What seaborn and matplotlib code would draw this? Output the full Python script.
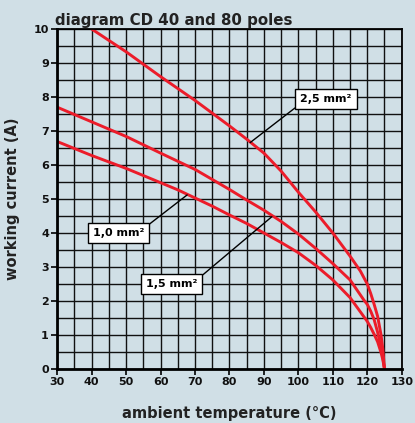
import matplotlib
matplotlib.use("Agg")
import matplotlib.pyplot as plt
import numpy as np
import pandas as pd
import seaborn as sns

# Derating curves: working current vs ambient temperature per conductor cross-section
temp_25 = [40, 50, 60, 70, 80, 85, 90, 95, 100, 105, 110, 115, 118, 120, 121, 122, 123, 124, 124.5, 125]
amps_25 = [10.0, 9.33, 8.6, 7.9, 7.15, 6.76, 6.35, 5.82, 5.2, 4.62, 4.0, 3.32, 2.88, 2.5, 2.22, 1.9, 1.55, 1.0, 0.6, 0.0]

temp_15 = [30, 40, 50, 60, 70, 80, 85, 90, 95, 100, 105, 110, 115, 119, 120, 121, 122, 123, 124, 124.5, 125]
amps_15 = [7.7, 7.27, 6.84, 6.35, 5.87, 5.28, 4.97, 4.67, 4.34, 3.97, 3.55, 3.1, 2.62, 2.03, 1.9, 1.7, 1.45, 1.08, 0.62, 0.35, 0.0]

temp_10 = [30, 40, 50, 60, 65, 70, 75, 80, 85, 90, 95, 100, 105, 110, 115, 119, 120, 121, 122, 123, 124, 124.5, 125]
amps_10 = [6.69, 6.28, 5.9, 5.48, 5.27, 5.03, 4.79, 4.53, 4.28, 4.0, 3.72, 3.42, 3.05, 2.62, 2.1, 1.54, 1.4, 1.22, 1.02, 0.8, 0.48, 0.28, 0.0]

x_ticks = [30, 40, 50, 60, 70, 80, 90, 100, 110, 120, 130]
y_ticks = [0, 1, 2, 3, 4, 5, 6, 7, 8, 9, 10]

# label text, leader target (on curve), box centre, corner of box the leader leaves from
labels = ["2,5 mm²", "1,5 mm²", "1,0 mm²"]
label_targets = [(86.0, 6.66), (92.3, 4.48), (67.7, 5.12)]
label_boxes = [(108.05, 7.95), (63.25, 2.49), (47.7, 3.99)]
label_corners = [(0, 0), (1, 1), (1, 1)]

df = pd.concat([
    pd.DataFrame({"temp": temp_25, "amps": amps_25, "section": "2,5"}),
    pd.DataFrame({"temp": temp_15, "amps": amps_15, "section": "1,5"}),
    pd.DataFrame({"temp": temp_10, "amps": amps_10, "section": "1,0"}),
])

bg = "#d0dfe6"
red = "#ec1c2a"
ink = "#222222"
sns.set_theme(style="white")
plt.rcParams["font.family"] = ["DejaVu Sans"]

fig = plt.figure(figsize=(4.15, 4.23), dpi=100, facecolor=bg)
ax = fig.add_axes([0.138, 0.1277, 0.830, 0.8036])
ax.set_facecolor(bg)

ax.set_xlim(30, 130)
ax.set_ylim(0, 10)
ax.set_xticks(np.arange(30, 131, 5), minor=True)
ax.set_yticks(np.arange(0, 10.01, 0.5), minor=True)
ax.grid(which="both", color="#111111", linewidth=1.0)
ax.set_axisbelow(True)

sns.lineplot(data=df, x="temp", y="amps", hue="section",
             palette={"2,5": red, "1,5": red, "1,0": red},
             estimator=None, sort=False, linewidth=2.1, legend=False, ax=ax)
for line in ax.get_lines():
    line.set_solid_joinstyle("round")
    line.set_solid_capstyle("round")

ax.set_xticks(x_ticks)
ax.set_yticks(y_ticks)
ax.set_xticklabels([str(v) for v in x_ticks], fontsize=8, fontweight="bold", color="#111111")
ax.set_yticklabels([str(v) for v in y_ticks], fontsize=8, fontweight="bold", color="#111111")
ax.tick_params(axis="both", which="major", length=4, width=1.2, color="black", pad=2,
               bottom=True, left=True)
ax.tick_params(axis="both", which="minor", length=0)

for side, lw in [("left", 2.0), ("bottom", 2.0), ("top", 1.3), ("right", 1.3)]:
    ax.spines[side].set_visible(True)
    ax.spines[side].set_color("black")
    ax.spines[side].set_linewidth(lw)

ax.set_xlabel("ambient temperature (°C)", fontsize=10.5, fontweight="bold", color=ink)
ax.set_ylabel("working current (A)", fontsize=10.5, fontweight="bold", color=ink)
ax.xaxis.set_label_coords(0.5, -0.108)
ax.yaxis.set_label_coords(-0.108, 0.5)
ax.set_title("diagram CD 40 and 80 poles", fontsize=10.8, fontweight="bold", color=ink,
             loc="left", pad=3, x=-0.008)

for text, target, box, corner in zip(labels, label_targets, label_boxes, label_corners):
    ax.annotate(text, xy=target, xytext=box, ha="center", va="center",
                fontsize=8, fontweight="bold", color="black",
                bbox=dict(boxstyle="square,pad=0.45", fc="white", ec="black", lw=1.0),
                arrowprops=dict(arrowstyle="-", color="black", lw=1.0, relpos=corner,
                                shrinkA=0, shrinkB=0))

fig.savefig("out.png", dpi=100, facecolor=bg)
